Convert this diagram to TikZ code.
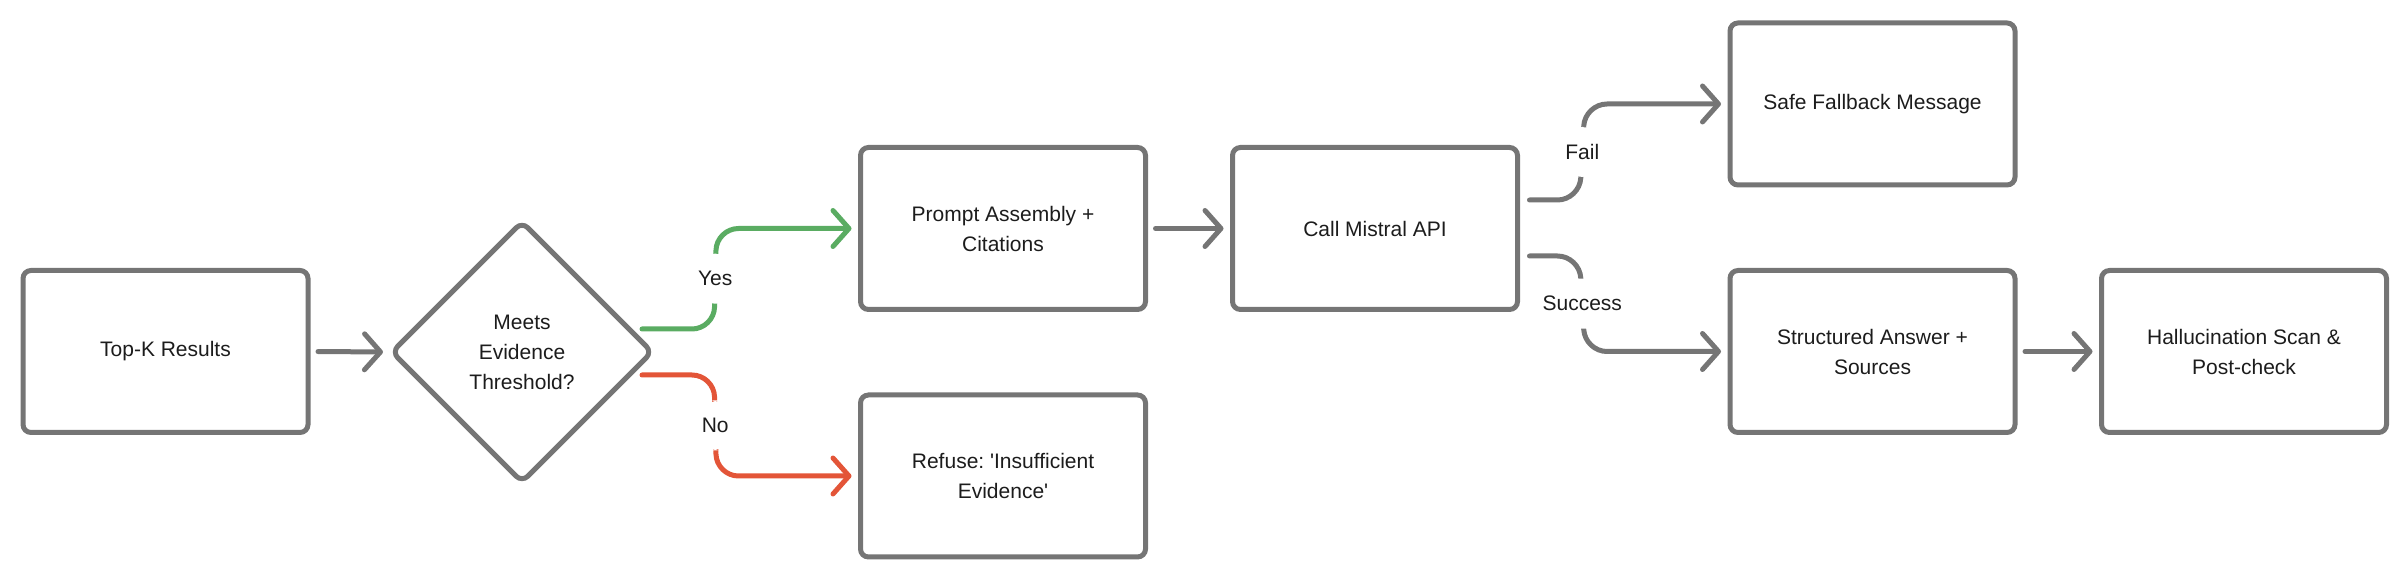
\documentclass[tikz,border=0pt]{standalone}
\usepackage{fontspec}
\setmainfont{Liberation Sans}
\usetikzlibrary{shapes.geometric,arrows.meta,calc}
\frenchspacing

\definecolor{flowgray}{RGB}{117,117,117}
\definecolor{yesgreen}{RGB}{90,172,98}
\definecolor{nored}{RGB}{227,85,56}
\definecolor{inkdark}{RGB}{28,28,28}

\tikzset{every picture/.style={line width=2.5pt}}
\tikzset{
	stepbox/.style={draw=flowgray, rounded corners=4pt, minimum width=142.5pt, minimum height=81pt, inner sep=0pt, outer sep=0pt, align=center, text=inkdark, font=\fontsize{10.5}{15}\selectfont},
	decision/.style={draw=flowgray, diamond, aspect=1, rounded corners=4pt, minimum width=130pt, minimum height=130pt, inner sep=0pt, outer sep=0pt, align=center, text=inkdark, font=\fontsize{10.5}{15}\selectfont},
	flow/.style={draw=flowgray, line cap=round, line join=round, rounded corners=11pt, -{Straight Barb[round, length=8pt, width=18pt]}, shorten >=4.5pt},
	lbl/.style={fill=white, text=inkdark, font=\fontsize{10.5}{15}\selectfont, minimum height=25pt, inner xsep=2pt, inner ysep=0pt}
}

\begin{document}
\begin{tikzpicture}[x=0.5pt,y=0.5pt,yscale=-1,xscale=1]
	\useasboundingbox (0,0) rectangle (2404,576);

	%Shape: Rectangle
	\node[stepbox] (topk) at (165.5,351.5) {Top-K Results};
	%Shape: Diamond
	\node[decision] (dec) at (522,352) {Meets\\Evidence\\Threshold?};
	%Shape: Rectangle
	\node[stepbox] (prompt) at (1003,228.5) {Prompt Assembly +\\Citations};
	%Shape: Rectangle
	\node[stepbox] (refuse) at (1003,476) {Refuse: \textquotesingle Insufficient\\Evidence\textquotesingle};
	%Shape: Rectangle
	\node[stepbox] (call) at (1375,228.5) {Call Mistral API};
	%Shape: Rectangle
	\node[stepbox] (safe) at (1872.5,104) {Safe Fallback Message};
	%Shape: Rectangle
	\node[stepbox] (struct) at (1872.5,351.5) {Structured Answer +\\Sources};
	%Shape: Rectangle
	\node[stepbox] (halluc) at (2244,351.5) {Hallucination Scan \&\\Post-check};

	%Straight Lines
	\draw[flow, shorten <=5pt] (topk.east) -- (dec.west);
	\draw[flow, shorten <=5pt] (prompt.east) -- (call.west);
	\draw[flow, shorten <=5pt] (struct.east) -- (halluc.west);

	%Curve Lines
	\draw[flow, draw=yesgreen] ($(dec.east)+(-10,-23)$) -- ++(72,0) -- node[lbl] {Yes} ($(prompt.west)+(-144,0)$) -- (prompt.west);
	\draw[flow, draw=nored] ($(dec.east)+(-10,23)$) -- ++(72,0) -- node[lbl] {No} ($(refuse.west)+(-144,0)$) -- (refuse.west);
	\draw[flow] ($(call.east)+(12,-28.5)$) -- ++(50,0) -- node[lbl] {Fail} ($(safe.west)+(-145,0)$) -- (safe.west);
	\draw[flow] ($(call.east)+(12,27.5)$) -- ++(50,0) -- node[lbl] {Success} ($(struct.west)+(-145,0)$) -- (struct.west);

\end{tikzpicture}
\end{document}
